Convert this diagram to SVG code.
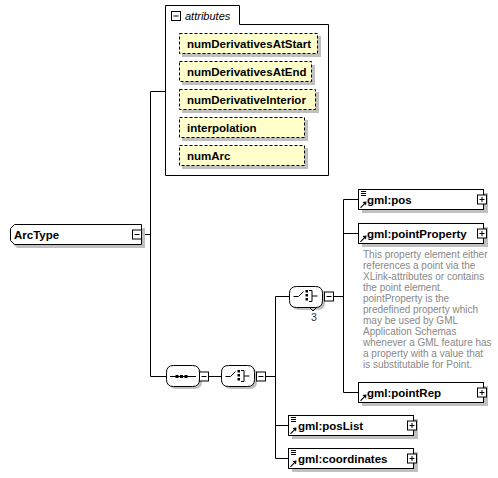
<svg xmlns="http://www.w3.org/2000/svg" width="498" height="478" viewBox="0 0 498 478">
<defs>
<style>
.line{stroke:#000;stroke-width:1;fill:none}
.box{fill:#fff;stroke:#000;stroke-width:1}
.shadow{fill:#c0c0c0;stroke:none}
.attr{fill:#ffffcc;stroke:#000;stroke-width:1;stroke-dasharray:3,2}
.name{font-family:"Liberation Sans",Arial,sans-serif;font-weight:bold;font-size:11.5px;fill:#000}
.desc{font-family:"Liberation Sans",Arial,sans-serif;font-size:10px;fill:#888}
.btn{fill:#fff;stroke:#000;stroke-width:1}
.ico{fill:#000;stroke:none}
</style>
<g id="plus"><rect class="btn" x="-4.5" y="-4.5" width="9" height="9"/><path class="line" d="M-2.5,0H2.5M0,-2.5V2.5"/></g>
<g id="minus"><rect class="btn" x="-4.5" y="-4.5" width="9" height="9"/><path class="line" d="M-2.5,0H2.5"/></g>
<g id="lines"><path class="line" d="M0,0.5H5M0,2.5H5M0,4.5H5"/></g>
<g id="arrow"><path class="ico" d="M0,6 L4,2 L2.5,0.5 L6.5,0 L6,4 L4.8,2.8 L1,6.5 Z"/></g>
<path id="comp" d="M7,0 H26 Q33,0 33,7 V14 Q33,21 26,21 H7 Q0,21 0,14 V7 Q0,0 7,0 Z"/>
<g id="choiceSym">
<path class="line" d="M4,11.5 H9 L14,6.5"/>
<rect class="ico" x="16" y="5" width="2.5" height="2.5"/>
<rect class="ico" x="16" y="9" width="2.5" height="2.5"/>
<rect class="ico" x="16" y="13" width="2.5" height="2.5"/>
<path class="line" d="M19.5,5.5 H22.5 V16.5 H19.5 M22.5,11 H28"/>
</g>
</defs>

<g id="connectors">
<path class="line" d="M141.5,234.5 H150.5 M150.5,91.5 V376.5 M150.5,91.5 H165 M150.5,376.5 H166"/>
<path class="line" d="M208,376.5 H221 M265,376.5 H275.5 M275.5,296.5 V458.5 M275.5,296.5 H289 M275.5,425.5 H288 M275.5,458.5 H288"/>
<path class="line" d="M333,296.5 H343.5 M343.5,199.5 V392.5 M343.5,199.5 H358 M343.5,233.5 H358 M343.5,392.5 H358"/>
</g>

<g id="ArcType">
<path class="shadow" d="M17,228 H145 V248 H17 L13,244 V232 Z"/>
<path class="box" d="M14.5,224.5 H141.5 V244.5 H14.5 L10.5,240.5 V228.5 Z"/>
<text class="name" x="14" y="238.5">ArcType</text>
<use href="#minus" x="137" y="234.5"/>
</g>

<g id="attributes">
<path class="box" d="M165.5,5.5 H239.5 V24.5 H328.5 V175.5 H165.5 Z"/>
<use href="#minus" x="176" y="16"/>
<text x="185" y="20" font-family="Liberation Sans,Arial,sans-serif" font-style="italic" font-size="11px">attributes</text>
<g id="attr-numDerivativesAtStart">
<rect class="shadow" x="182" y="36" width="139" height="21"/>
<rect class="attr" x="179.5" y="33.5" width="138" height="20"/>
<text class="name" x="187" y="48">numDerivativesAtStart</text>
</g>
<g id="attr-numDerivativesAtEnd">
<rect class="shadow" x="182" y="65" width="133" height="20"/>
<rect class="attr" x="179.5" y="61.5" width="132" height="20"/>
<text class="name" x="187" y="76">numDerivativesAtEnd</text>
</g>
<g id="attr-numDerivativeInterior">
<rect class="shadow" x="182" y="92" width="137" height="21"/>
<rect class="attr" x="179.5" y="89.5" width="136" height="20"/>
<text class="name" x="187" y="104">numDerivativeInterior</text>
</g>
<g id="attr-interpolation">
<rect class="shadow" x="182" y="120" width="126" height="21"/>
<rect class="attr" x="179.5" y="117.5" width="125" height="20"/>
<text class="name" x="187" y="132">interpolation</text>
</g>
<g id="attr-numArc">
<rect class="shadow" x="182" y="148" width="126" height="21"/>
<rect class="attr" x="179.5" y="145.5" width="125" height="20"/>
<text class="name" x="187" y="160">numArc</text>
</g>
</g>

<g id="sequence">
<use href="#comp" x="169" y="368" class="shadow"/>
<use href="#comp" x="166.5" y="365.5" class="box"/>
<path class="line" d="M170,376.5 H196"/>
<rect class="ico" x="175.5" y="375" width="3" height="3"/>
<rect class="ico" x="180" y="375" width="3" height="3"/>
<rect class="ico" x="184.5" y="375" width="3" height="3"/>
<use href="#minus" x="204" y="376.5"/>
</g>

<g id="choice1">
<use href="#comp" x="224" y="368" class="shadow"/>
<use href="#comp" x="221.5" y="365.5" class="box"/>
<use href="#choiceSym" x="221.5" y="365"/>
<use href="#minus" x="261" y="376.5"/>
</g>

<g id="choice2">
<use href="#comp" x="292" y="289" class="shadow"/>
<use href="#comp" x="289.5" y="286.5" class="box"/>
<use href="#choiceSym" x="289.5" y="285"/>
<path class="line" d="M309,307 L313,311 L317,307"/>
<use href="#minus" x="329" y="296.5"/>
<text x="314" y="321" text-anchor="middle" font-family="Liberation Sans,Arial,sans-serif" font-size="10.5px" fill="#333">3</text>
</g>

<g id="gml-pos">
<rect class="shadow" x="362" y="193" width="126" height="20"/>
<rect class="box" x="358.5" y="189.5" width="125" height="20"/>
<use href="#lines" x="361" y="191"/>
<use href="#arrow" x="360" y="201.5"/>
<text class="name" x="367" y="204">gml:pos</text>
<use href="#plus" x="482" y="199.5"/>
</g>

<g id="gml-pointProperty">
<rect class="shadow" x="362" y="227" width="126" height="20"/>
<rect class="box" x="358.5" y="223.5" width="125" height="20"/>
<use href="#arrow" x="360" y="235.5"/>
<text class="name" x="367" y="238">gml:pointProperty</text>
<use href="#plus" x="482" y="233.5"/>
<text class="desc" x="363" y="258">This property element either</text>
<text class="desc" x="363" y="269">references a point via the</text>
<text class="desc" x="363" y="280">XLink-attributes or contains</text>
<text class="desc" x="363" y="291">the point element.</text>
<text class="desc" x="363" y="302">pointProperty is the</text>
<text class="desc" x="363" y="313">predefined property which</text>
<text class="desc" x="363" y="324">may be used by GML</text>
<text class="desc" x="363" y="335">Application Schemas</text>
<text class="desc" x="363" y="346">whenever a GML feature has</text>
<text class="desc" x="363" y="357">a property with a value that</text>
<text class="desc" x="363" y="368">is substitutable for Point.</text>
</g>

<g id="gml-pointRep">
<rect class="shadow" x="362" y="386" width="126" height="20"/>
<rect class="box" x="358.5" y="382.5" width="125" height="20"/>
<use href="#arrow" x="360" y="394.5"/>
<text class="name" x="367" y="397">gml:pointRep</text>
<use href="#plus" x="482" y="392.5"/>
</g>

<g id="gml-posList">
<rect class="shadow" x="292" y="419" width="126" height="20"/>
<rect class="box" x="288.5" y="415.5" width="125" height="20"/>
<use href="#lines" x="291" y="417"/>
<use href="#arrow" x="290" y="427.5"/>
<text class="name" x="298" y="430">gml:posList</text>
<use href="#plus" x="412" y="425.5"/>
</g>

<g id="gml-coordinates">
<rect class="shadow" x="292" y="452" width="126" height="20"/>
<rect class="box" x="288.5" y="448.5" width="125" height="20"/>
<use href="#lines" x="291" y="450"/>
<use href="#arrow" x="290" y="460.5"/>
<text class="name" x="298" y="463">gml:coordinates</text>
<use href="#plus" x="412" y="458.5"/>
</g>
</svg>
